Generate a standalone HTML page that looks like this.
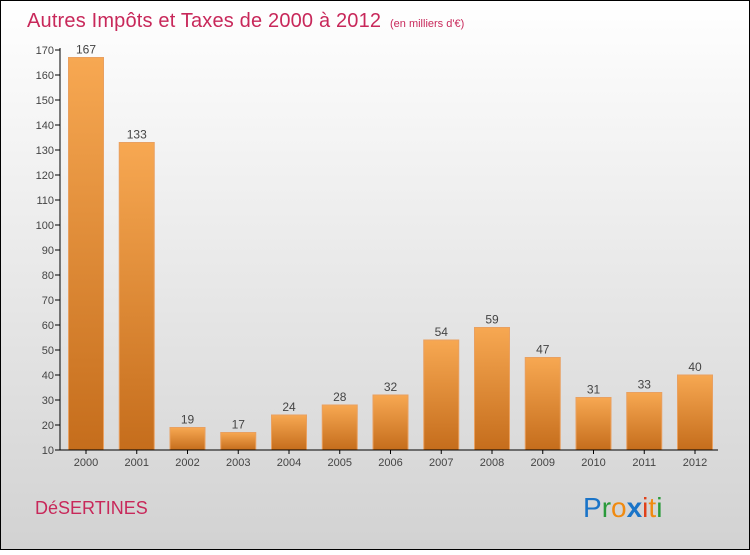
<!DOCTYPE html>
<html><head><meta charset="utf-8"><style>
html,body{margin:0;padding:0}
body{width:750px;height:550px;overflow:hidden;font-family:"Liberation Sans",sans-serif}
</style></head><body>
<svg width="750" height="550" xmlns="http://www.w3.org/2000/svg">
<defs>
<linearGradient id="bg" x1="0" y1="0" x2="0" y2="1"><stop offset="0" stop-color="#ffffff"/><stop offset="1" stop-color="#d2d2d2"/></linearGradient>
<linearGradient id="bar" x1="0" y1="0" x2="0" y2="1"><stop offset="0" stop-color="#f7a852"/><stop offset="1" stop-color="#c56d1c"/></linearGradient>
</defs>
<rect x="0.5" y="0.5" width="749" height="549" fill="url(#bg)" stroke="#000"/>
<text x="27" y="27" font-size="20" fill="#c8285a" textLength="354">Autres Impôts et Taxes de 2000 à 2012</text>
<text x="390" y="27" font-size="11" fill="#c8285a">(en milliers d'€)</text>
<g id="yaxis"></g>
<g id="bars"></g>
<line x1="60" y1="450" x2="718" y2="450" stroke="#000"/>
<line x1="60" y1="48" x2="60" y2="450" stroke="#000"/>
<text x="35" y="514" font-size="18" fill="#c8285a">DéSERTINES</text>
<text x="583" y="517" font-size="28"><tspan fill="#1a74c8">P</tspan><tspan fill="#2a9a3a">r</tspan><tspan fill="#f08a10">o</tspan><tspan fill="#1a74c8" font-weight="bold">x</tspan><tspan fill="#e0401a">i</tspan><tspan fill="#f08a10">t</tspan><tspan fill="#2a9a3a">i</tspan></text>
</svg>
<script>
const years=["2000","2001","2002","2003","2004","2005","2006","2007","2008","2009","2010","2011","2012"];
const values=[167,133,19,17,24,28,32,54,59,47,31,33,40];
const yTicks=[10,20,30,40,50,60,70,80,90,100,110,120,130,140,150,160,170];
const NS="http://www.w3.org/2000/svg";
function y(v){return 450-(v-10)*2.5;}
function xc(i){return 86+i*50.75;}
function mk(t,a,p){const e=document.createElementNS(NS,t);for(const k in a)e.setAttribute(k,a[k]);p.appendChild(e);return e;}
const ya=document.getElementById('yaxis');
yTicks.forEach(t=>{
 const l=mk('line',{x1:55,x2:60,y1:y(t),y2:y(t),stroke:'#000'},ya);
 
 
 const tx=mk('text',{x:54,y:y(t)+4,'font-size':11,'text-anchor':'end',fill:'#444'},ya);
 tx.textContent=t;
 
 
});
const bg=document.getElementById('bars');
years.forEach((yr,i)=>{
 const v=values[i];
 const r=mk('rect',{x:xc(i)-17.5,y:y(v),width:35,height:450-y(v),fill:'url(#bar)',stroke:'#e9a060','stroke-width':1},bg);
 
 
 const vl=mk('text',{x:xc(i),y:y(v)-4,'font-size':12,'text-anchor':'middle',fill:'#444'},bg);
 vl.textContent=v;
 
 
 const tk=mk('line',{x1:xc(i),x2:xc(i),y1:450,y2:454,stroke:'#000'},bg);
 
 
 const xl=mk('text',{x:xc(i),y:466,'font-size':11,'text-anchor':'middle',fill:'#444'},bg);
 xl.textContent=yr;
 
 
});
</script>
</body></html>
